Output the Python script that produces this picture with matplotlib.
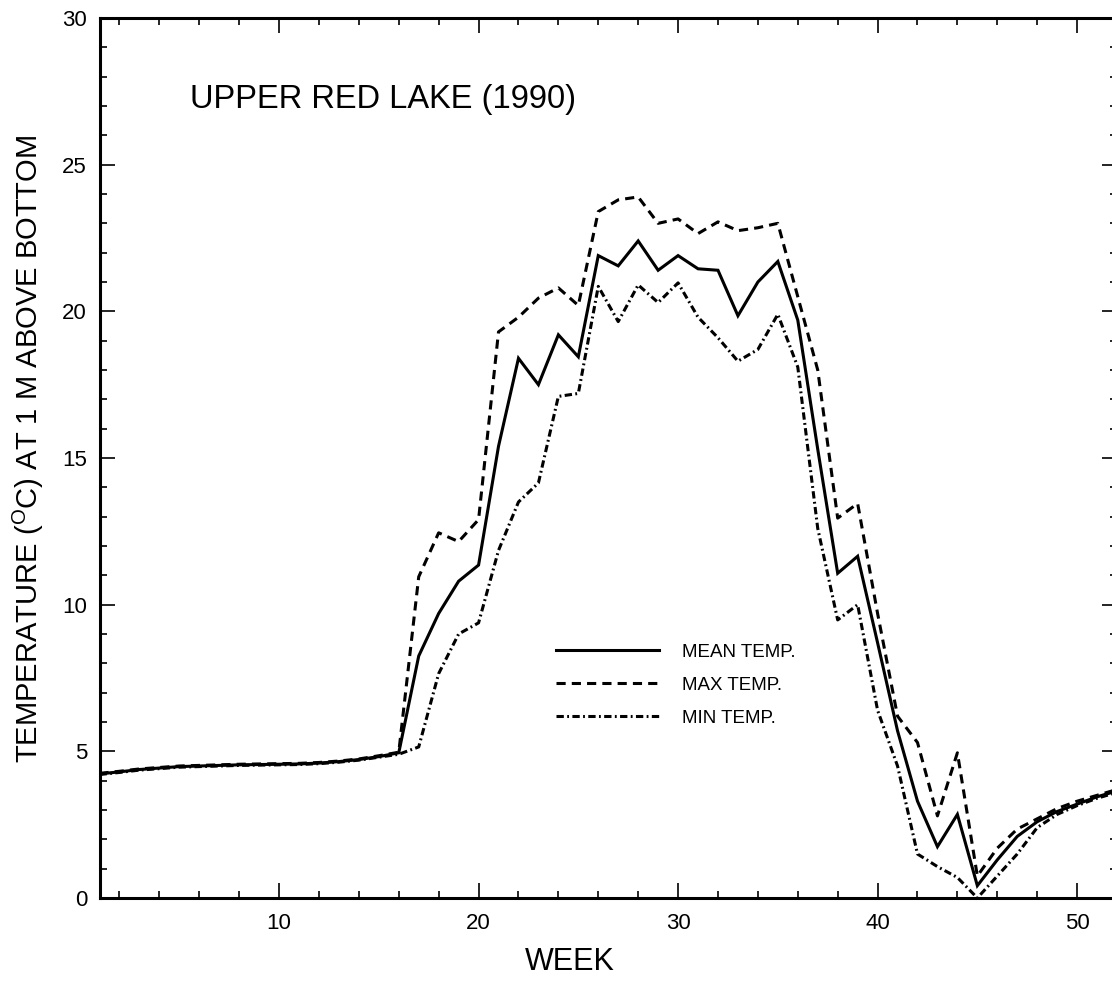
import matplotlib
matplotlib.use("Agg")
import matplotlib.pyplot as plt
import numpy as np
from matplotlib.ticker import MultipleLocator

plt.rcParams['font.family'] = ['Liberation Sans', 'DejaVu Sans']
plt.rcParams['mathtext.fontset'] = 'custom'
plt.rcParams['mathtext.rm'] = 'Liberation Sans'

# weekly bottom temperatures, Upper Red Lake 1990
weeks = list(range(1, 53))
mean_temp = [4.23, 4.30, 4.38, 4.43, 4.48, 4.50, 4.52, 4.54, 4.55, 4.56,
             4.57, 4.60, 4.65, 4.72, 4.82, 4.95, 8.25, 9.70, 10.80, 11.35,
             15.40, 18.40, 17.50, 19.20, 18.45, 21.90, 21.55, 22.40, 21.40, 21.90,
             21.45, 21.40, 19.85, 21.00, 21.70, 19.70, 15.30, 11.07, 11.65, 8.70,
             5.70, 3.30, 1.75, 2.85, 0.42, 1.30, 2.10, 2.60, 2.95, 3.20,
             3.45, 3.65]
max_temp = [4.25, 4.32, 4.40, 4.45, 4.50, 4.52, 4.54, 4.56, 4.57, 4.58,
            4.59, 4.62, 4.67, 4.74, 4.85, 4.97, 10.95, 12.45, 12.15, 12.90,
            19.30, 19.80, 20.45, 20.80, 20.20, 23.40, 23.80, 23.90, 23.00, 23.15,
            22.65, 23.05, 22.75, 22.85, 23.00, 20.50, 18.00, 12.95, 13.45, 9.70,
            6.20, 5.30, 2.80, 4.95, 0.75, 1.70, 2.35, 2.70, 3.05, 3.30,
            3.50, 3.70]
min_temp = [4.21, 4.28, 4.36, 4.41, 4.46, 4.48, 4.50, 4.52, 4.53, 4.54,
            4.55, 4.58, 4.63, 4.70, 4.80, 4.90, 5.15, 7.65, 9.00, 9.38,
            11.85, 13.50, 14.15, 17.10, 17.20, 20.85, 19.65, 20.90, 20.30, 20.97,
            19.80, 19.10, 18.30, 18.70, 19.90, 18.10, 12.60, 9.48, 10.00, 6.40,
            4.50, 1.50, 1.07, 0.70, 0.00, 0.75, 1.50, 2.40, 2.85, 3.15,
            3.40, 3.60]

fig = plt.figure(figsize=(11.12, 9.82), dpi=100)
# right spine sits just past the picture edge, as in the scanned original
ax = fig.add_axes([99.5 / 1112, 84 / 982, 1017.5 / 1112, 880 / 982])

lw = 2.2
ax.plot(weeks, mean_temp, color='black', lw=lw, solid_joinstyle='miter',
        label='MEAN TEMP.')
ax.plot(weeks, max_temp, color='black', lw=lw, dashes=(3, 2),
        label='MAX TEMP.')
ax.plot(weeks, min_temp, color='black', lw=lw, dashes=(2.4, 1.1, 0.6, 1.1),
        label='MIN TEMP.')

ax.set_xlim(1, 52)
ax.set_ylim(0, 30)

ax.xaxis.set_major_locator(MultipleLocator(10))
ax.xaxis.set_minor_locator(MultipleLocator(2))
ax.yaxis.set_major_locator(MultipleLocator(5))
ax.yaxis.set_minor_locator(MultipleLocator(1))
ax.tick_params(which='both', direction='in', top=True, right=True,
               width=1.2, labelsize=16)
ax.tick_params(which='major', length=11)
ax.tick_params(which='minor', length=5)
ax.tick_params(axis='x', which='major', pad=11)
ax.tick_params(axis='y', which='major', pad=9)
for s in ax.spines.values():
    s.set_linewidth(2.2)

ax.set_xlabel('WEEK', fontsize=22)
ax.xaxis.set_label_coords(0.462, -0.056)
ax.set_ylabel(r'TEMPERATURE ($^{\mathrm{O}}$C) AT 1 M ABOVE BOTTOM', fontsize=21)
ax.yaxis.set_label_coords(-0.053, 0.51)

ax.text(0.089, 0.907, 'UPPER RED LAKE (1990)', transform=ax.transAxes,
        fontsize=23.5, va='center', ha='left')

ax.legend(loc='center left', bbox_to_anchor=(0.449, 0.242), frameon=False,
          fontsize=13.5, handlelength=5.5, handletextpad=1.2, labelspacing=0.85,
          borderpad=0, borderaxespad=0)

fig.savefig('out.png', dpi=100)
